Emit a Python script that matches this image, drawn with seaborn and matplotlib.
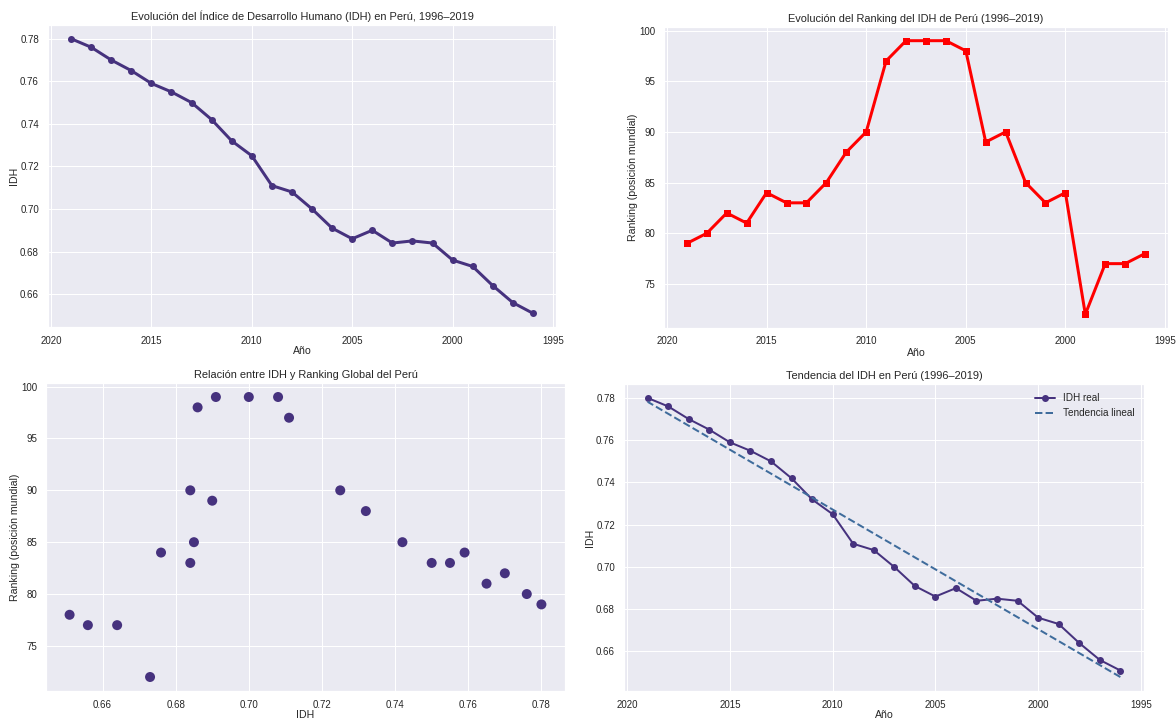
import matplotlib
matplotlib.use("Agg")
import matplotlib.pyplot as plt
import seaborn as sns
import numpy as np
import pandas as pd

# datos IDH Perú (de 2019 a 1996)
anios = list(range(2019, 1995, -1))
idh = [0.780, 0.776, 0.770, 0.765, 0.759, 0.755, 0.750, 0.742, 0.732, 0.725,
       0.711, 0.708, 0.700, 0.691, 0.686, 0.690, 0.684, 0.685, 0.684, 0.676,
       0.673, 0.664, 0.656, 0.651]
ranking = [79, 80, 82, 81, 84, 83, 83, 85, 88, 90,
           97, 99, 99, 99, 98, 89, 90, 85, 83, 84,
           72, 77, 77, 78]

df = pd.DataFrame({'Año': anios, 'IDH': idh, 'Ranking': ranking})

sns.set_theme(style="darkgrid")
plt.rcParams['font.family'] = ['Liberation Sans', 'DejaVu Sans']
plt.rcParams['xtick.labelsize'] = 9.8
plt.rcParams['ytick.labelsize'] = 9.8
plt.rcParams['axes.labelsize'] = 10.5
plt.rcParams['axes.titlesize'] = 11
plt.rcParams['xtick.major.pad'] = 2.5
plt.rcParams['ytick.major.pad'] = 3
plt.rcParams['axes.labelpad'] = 1
plt.rcParams['axes.titlepad'] = 5

morado = sns.color_palette("viridis")[0]
W, H = 1176, 721
fig = plt.figure(figsize=(W / 72, H / 72), dpi=72)

def caja(x0, y0, x1, y1):
    return [x0 / W, 1 - y1 / H, (x1 - x0) / W, (y1 - y0) / H]

ax1 = fig.add_axes(caja(48, 25, 556, 327))
ax2 = fig.add_axes(caja(664, 27, 1168, 328))
ax3 = fig.add_axes(caja(46, 383, 565, 691))
ax4 = fig.add_axes(caja(624, 384, 1144, 691))

# 1. evolucion IDH
sns.lineplot(x='Año', y='IDH', data=df, marker='o', color=morado,
             linewidth=3, markersize=7, markeredgewidth=0, ax=ax1)
ax1.invert_xaxis()
ax1.set_title('Evolución del Índice de Desarrollo Humano (IDH) en Perú, 1996–2019')

# 2. ranking
sns.lineplot(x='Año', y='Ranking', data=df, marker='s', color='red',
             linewidth=3, markersize=7, markeredgewidth=0, ax=ax2)
ax2.invert_xaxis()
ax2.set_ylabel('Ranking (posición mundial)')
ax2.set_title('Evolución del Ranking del IDH de Perú (1996–2019)')

# 3. relacion IDH vs ranking
sns.scatterplot(x='IDH', y='Ranking', data=df, color=morado, s=100,
                edgecolor='none', ax=ax3)
ax3.set_ylabel('Ranking (posición mundial)')
ax3.set_title('Relación entre IDH y Ranking Global del Perú')

# 4. tendencia
coef = np.polyfit(df['Año'], df['IDH'], 1)
df['Tendencia'] = np.polyval(coef, df['Año'])
sns.lineplot(x='Año', y='IDH', data=df, marker='o', color=morado,
             linewidth=2, markersize=7, markeredgewidth=0, label='IDH real', ax=ax4)
sns.lineplot(x='Año', y='Tendencia', data=df, color='#3f6c9c', linestyle='--',
             linewidth=2, label='Tendencia lineal', ax=ax4)
ax4.invert_xaxis()
ax4.set_ylabel('IDH')
ax4.set_title('Tendencia del IDH en Perú (1996–2019)')
ax4.legend(loc='upper right', fontsize=10, frameon=False)

fig.savefig('out.png', dpi=72)
